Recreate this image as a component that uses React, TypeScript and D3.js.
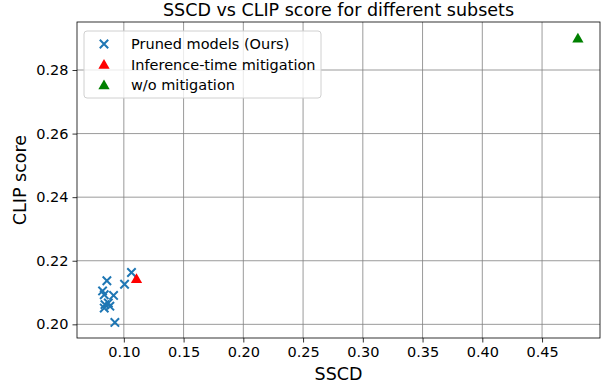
import React, { useEffect, useRef } from "react";
import * as d3 from "d3";

// pruned models (ours)
const prunedSscd = [0.1064, 0.1006, 0.0858, 0.0822, 0.0836, 0.0914, 0.0842, 0.0883, 0.0836, 0.087, 0.0925];
const prunedClip = [0.2163, 0.2126, 0.2137, 0.2105, 0.2093, 0.2091, 0.2062, 0.2057, 0.2051, 0.2067, 0.2006];
const inferenceSscd = [0.1106];
const inferenceClip = [0.2143];
const baseSscd = [0.48];
const baseClip = [0.29];

const xTicks = [0.1, 0.15, 0.2, 0.25, 0.3, 0.35, 0.4, 0.45];
const yTicks = [0.2, 0.22, 0.24, 0.26, 0.28];
const legendLabels = ["Pruned models (Ours)", "Inference-time mitigation", "w/o mitigation"];

const FONT = "DejaVu Sans, sans-serif";

const App = () => {
  const svgRef = useRef<SVGSVGElement>(null);

  useEffect(() => {
    const W = 605;
    const H = 385;
    const margin = { top: 22, right: 5, bottom: 47, left: 77 };
    const width = W - margin.left - margin.right;
    const height = H - margin.top - margin.bottom;

    const root = d3.select(svgRef.current);
    root.selectAll("*").remove();
    root.attr("width", W).attr("height", H);

    const svg = root.append("g").attr("transform", `translate(${margin.left},${margin.top})`);

    const x = d3.scaleLinear().domain([0.0608, 0.4985]).range([0, width]);
    const y = d3.scaleLinear().domain([0.1957, 0.2951]).range([height, 0]);

    // grid
    svg
      .selectAll(".gx")
      .data(xTicks)
      .enter()
      .append("line")
      .attr("x1", (d) => x(d))
      .attr("x2", (d) => x(d))
      .attr("y1", 0)
      .attr("y2", height)
      .attr("stroke", "#808080")
      .attr("stroke-width", 0.8);
    svg
      .selectAll(".gy")
      .data(yTicks)
      .enter()
      .append("line")
      .attr("x1", 0)
      .attr("x2", width)
      .attr("y1", (d) => y(d))
      .attr("y2", (d) => y(d))
      .attr("stroke", "#808080")
      .attr("stroke-width", 0.8);

    // axes
    const xAxis = svg
      .append("g")
      .attr("transform", `translate(0,${height})`)
      .call(
        d3
          .axisBottom(x)
          .tickValues(xTicks)
          .tickFormat(d3.format(".2f"))
          .tickSize(4.5)
          .tickPadding(4)
      );
    const yAxis = svg.append("g").call(
      d3
        .axisLeft(y)
        .tickValues(yTicks)
        .tickFormat(d3.format(".2f"))
        .tickSize(4.5)
        .tickPadding(4)
    );
    [xAxis, yAxis].forEach((a) => {
      a.select(".domain").remove();
      a.selectAll("text").attr("font-family", FONT).attr("font-size", 14.5).attr("fill", "#000");
      a.selectAll("line").attr("stroke", "#000").attr("stroke-width", 0.8);
    });

    // frame
    svg
      .append("rect")
      .attr("width", width)
      .attr("height", height)
      .attr("fill", "none")
      .attr("stroke", "#000")
      .attr("stroke-width", 0.8);

    const cross = (g: any, cx: number, cy: number) => {
      const s = 4.2;
      g.append("path")
        .attr("d", `M${cx - s},${cy - s}L${cx + s},${cy + s}M${cx - s},${cy + s}L${cx + s},${cy - s}`)
        .attr("stroke", "#1f77b4")
        .attr("stroke-width", 2);
    };
    const tri = d3.symbol().type(d3.symbolTriangle).size(55);

    const pts = svg.append("g");
    prunedSscd.forEach((v, i) => cross(pts, x(v), y(prunedClip[i])));
    inferenceSscd.forEach((v, i) => {
      pts
        .append("path")
        .attr("d", tri()!)
        .attr("transform", `translate(${x(v)},${y(inferenceClip[i]) + 1})`)
        .attr("fill", "red");
    });
    baseSscd.forEach((v, i) => {
      pts
        .append("path")
        .attr("d", tri()!)
        .attr("transform", `translate(${x(v)},${y(baseClip[i]) + 1})`)
        .attr("fill", "green");
    });

    // legend
    const lg = svg.append("g").attr("transform", "translate(7,9)");
    lg.append("rect")
      .attr("width", 237)
      .attr("height", 67)
      .attr("rx", 3)
      .attr("fill", "rgba(255,255,255,0.8)")
      .attr("stroke", "#d0d0d0")
      .attr("stroke-width", 1);
    legendLabels.forEach((label, i) => {
      const ly = 13 + i * 20.5;
      if (i === 0) cross(lg, 20, ly);
      else
        lg.append("path")
          .attr("d", tri()!)
          .attr("transform", `translate(20,${ly + 1})`)
          .attr("fill", i === 1 ? "red" : "green");
      lg.append("text")
        .attr("x", 47)
        .attr("y", ly)
        .attr("dy", "0.35em")
        .attr("font-family", FONT)
        .attr("font-size", 14.5)
        .text(label);
    });

    // labels
    root
      .append("text")
      .attr("x", margin.left + width / 2)
      .attr("y", 16)
      .attr("text-anchor", "middle")
      .attr("font-family", FONT)
      .attr("font-size", 17.5)
      .text("SSCD vs CLIP score for different subsets");
    root
      .append("text")
      .attr("x", margin.left + width / 2)
      .attr("y", 380)
      .attr("text-anchor", "middle")
      .attr("font-family", FONT)
      .attr("font-size", 17.5)
      .text("SSCD");
    root
      .append("text")
      .attr("transform", `translate(26,${margin.top + height / 2}) rotate(-90)`)
      .attr("text-anchor", "middle")
      .attr("font-family", FONT)
      .attr("font-size", 17.5)
      .text("CLIP score");
  }, []);

  return <svg ref={svgRef} style={{ position: "absolute", left: 0, top: 0 }}></svg>;
};

export default App;
